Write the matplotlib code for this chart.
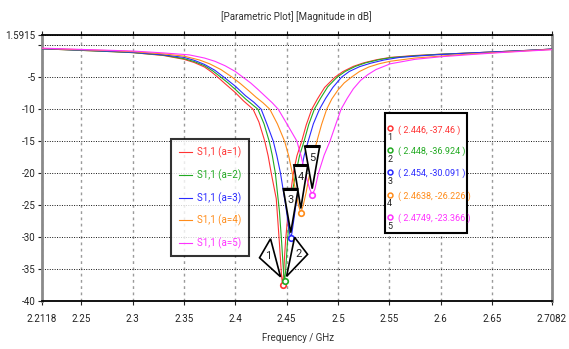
import matplotlib
matplotlib.use("Agg")
import matplotlib.pyplot as plt
import matplotlib.transforms as mtransforms
from matplotlib.patches import Polygon, Rectangle

plt.rcParams['font.family'] = ['Roboto', 'DejaVu Sans']

# S1,1 curves (frequency in GHz, magnitude in dB)
freq_a1 = [2.2118, 2.25, 2.28, 2.30, 2.33, 2.35, 2.36, 2.37, 2.377, 2.383, 2.39, 2.40, 2.408,
           2.4173, 2.423, 2.4287, 2.432, 2.435, 2.4399, 2.443, 2.444, 2.445, 2.446, 2.447,
           2.448, 2.449, 2.4515, 2.4565, 2.46, 2.4647, 2.469, 2.4745, 2.48, 2.487, 2.497,
           2.505, 2.515, 2.525, 2.538, 2.551, 2.575, 2.60, 2.63, 2.658, 2.685, 2.7082]
s11_a1 = [-0.55, -0.8, -1.0, -1.15, -1.6, -2.2, -2.7, -3.4, -4.2, -5.0, -6.0, -7.4, -8.7,
          -10.0, -12.0, -15.0, -17.3, -20.0, -24.0, -31.0, -33.5, -36.0, -37.46, -35.8,
          -33.0, -30.5, -26.0, -20.0, -17.3, -15.0, -12.5, -10.0, -8.4, -6.6, -5.0,
          -4.1, -3.3, -2.75, -2.25, -1.9, -1.6, -1.4, -1.2, -1.0, -0.8, -0.6]

freq_a2 = [2.2118, 2.25, 2.28, 2.30, 2.33, 2.35, 2.36, 2.37, 2.378, 2.386, 2.393, 2.40, 2.41,
           2.422, 2.428, 2.433, 2.436, 2.439, 2.443, 2.445, 2.446, 2.447, 2.448, 2.449,
           2.450, 2.451, 2.453, 2.456, 2.459, 2.4625, 2.467, 2.4715, 2.477, 2.483, 2.49,
           2.4991, 2.507, 2.517, 2.527, 2.54, 2.551, 2.575, 2.60, 2.63, 2.658, 2.685, 2.7082]
s11_a2 = [-0.55, -0.8, -1.0, -1.15, -1.55, -2.1, -2.55, -3.2, -4.0, -5.0, -5.9, -6.9, -8.4,
          -10.0, -12.3, -15.0, -17.2, -20.0, -26.0, -30.5, -33.0, -35.5, -36.924, -35.3,
          -32.8, -30.3, -26.0, -22.5, -20.0, -17.3, -15.0, -12.4, -10.0, -8.3, -6.5,
          -5.0, -4.1, -3.3, -2.75, -2.25, -1.95, -1.65, -1.4, -1.2, -1.0, -0.8, -0.6]

freq_a3 = [2.2118, 2.25, 2.28, 2.30, 2.33, 2.35, 2.36, 2.37, 2.38, 2.389, 2.40, 2.41, 2.418,
           2.4252, 2.431, 2.437, 2.4405, 2.444, 2.447, 2.449, 2.451, 2.453, 2.454, 2.455,
           2.457, 2.459, 2.461, 2.4637, 2.467, 2.471, 2.476, 2.482, 2.488, 2.495, 2.5034,
           2.511, 2.521, 2.532, 2.545, 2.56, 2.58, 2.60, 2.63, 2.658, 2.685, 2.7082]
s11_a3 = [-0.55, -0.75, -0.95, -1.1, -1.5, -1.9, -2.35, -3.0, -3.9, -5.0, -6.4, -7.9, -8.9,
          -10.0, -12.4, -15.0, -17.3, -20.0, -23.0, -25.0, -27.3, -29.5, -30.091, -29.5,
          -27.3, -25.0, -22.8, -20.0, -17.3, -15.0, -12.3, -10.0, -8.3, -6.6, -5.0,
          -4.1, -3.35, -2.8, -2.3, -1.9, -1.65, -1.45, -1.2, -1.0, -0.8, -0.6]

freq_a4 = [2.2118, 2.25, 2.28, 2.30, 2.33, 2.35, 2.365, 2.375, 2.386, 2.397, 2.405, 2.413,
           2.42, 2.427, 2.4336, 2.441, 2.448, 2.452, 2.4555, 2.459, 2.4615, 2.4638, 2.4662,
           2.469, 2.4725, 2.4755, 2.4795, 2.484, 2.489, 2.494, 2.50, 2.506, 2.513, 2.521,
           2.53, 2.54, 2.551, 2.575, 2.60, 2.63, 2.658, 2.685, 2.7082]
s11_a4 = [-0.5, -0.7, -0.85, -1.0, -1.35, -1.7, -2.3, -2.9, -3.8, -5.0, -6.0, -7.1,
          -8.1, -9.0, -10.0, -12.3, -15.0, -17.3, -20.0, -23.0, -25.0, -26.226, -25.0,
          -23.0, -20.0, -17.4, -15.0, -12.4, -10.0, -8.4, -7.0, -5.9, -5.0, -4.1,
          -3.4, -2.9, -2.5, -2.0, -1.7, -1.35, -1.1, -0.85, -0.65]

freq_a5 = [2.2118, 2.25, 2.28, 2.30, 2.33, 2.355, 2.37, 2.38, 2.39, 2.40, 2.4075, 2.415,
           2.422, 2.43, 2.436, 2.4418, 2.451, 2.46, 2.464, 2.468, 2.4725, 2.4749, 2.4775,
           2.481, 2.4865, 2.4922, 2.498, 2.503, 2.509, 2.515, 2.522, 2.529, 2.537, 2.551,
           2.575, 2.60, 2.63, 2.658, 2.685, 2.7082]
s11_a5 = [-0.45, -0.65, -0.8, -0.9, -1.2, -1.5, -2.0, -2.5, -3.2, -4.1, -5.0, -5.9,
          -6.9, -8.1, -9.0, -10.0, -12.5, -15.0, -17.3, -20.0, -22.5, -23.366, -22.5,
          -20.0, -17.2, -15.0, -12.3, -10.0, -8.3, -6.8, -5.5, -4.6, -3.8, -2.9,
          -2.2, -1.8, -1.45, -1.15, -0.9, -0.7]

labels = ['S1,1 (a=1)', 'S1,1 (a=2)', 'S1,1 (a=3)', 'S1,1 (a=4)', 'S1,1 (a=5)']
colors = ['#ff3333', '#22aa22', '#2a2aff', '#ff8c1a', '#ff33ff']

marker_f = [2.446, 2.448, 2.454, 2.4638, 2.4749]
marker_db = [-37.46, -36.924, -30.091, -26.226, -23.366]
marker_txt = ['( 2.446, -37.46 )', '( 2.448, -36.924 )', '( 2.454, -30.091 )',
              '( 2.4638, -26.226 )', '( 2.4749, -23.366 )']

xticks = [2.2118, 2.25, 2.3, 2.35, 2.4, 2.45, 2.5, 2.55, 2.6, 2.65, 2.7082]
xtick_labels = ['2.2118', '2.25', '2.3', '2.35', '2.4', '2.45', '2.5', '2.55', '2.6', '2.65', '2.7082']
yticks = [1.5915, 0, -5, -10, -15, -20, -25, -30, -35, -40]
ytick_labels = ['1.5915', '', '-5', '-10', '-15', '-20', '-25', '-30', '-35', '-40']

fig = plt.figure(figsize=(5.69, 3.49), dpi=100)
ax = fig.add_axes([0.0738, 0.1375, 0.896, 0.762])

curves = [(freq_a1, s11_a1), (freq_a2, s11_a2), (freq_a3, s11_a3),
          (freq_a4, s11_a4), (freq_a5, s11_a5)]
for (f, s), c, lab in zip(curves, colors, labels):
    ax.plot(f, s, color=c, lw=0.8, label=lab, zorder=3)

ax.set_xlim(2.2118, 2.7082)
ax.set_ylim(-40, 1.5915)
ax.set_xticks(xticks)
ax.set_xticklabels(xtick_labels)
ax.set_yticks(yticks)
ax.set_yticklabels(ytick_labels)
ax.tick_params(axis='both', direction='out', length=3, labelsize=7, colors='#222222',
               top=True)
ax.tick_params(axis='x', pad=6)
ax.tick_params(axis='y', pad=1.5)

for x in xticks:
    ax.axvline(x, color='#9a9a9a', lw=1.0, ls=(0, (2, 2.5)), zorder=1)
for y in yticks:
    ax.axhline(y, color='#111111', lw=0.7, ls=(0, (1, 1.5)), zorder=1)

ax.spines['top'].set_linewidth(1.3)
ax.spines['bottom'].set_linewidth(1.3)
ax.spines['left'].set_color('#8a8a8a')
ax.spines['left'].set_linewidth(2)
ax.spines['right'].set_color('#8a8a8a')
ax.spines['right'].set_linewidth(2)

fig.text(0.52, 0.954, '[Parametric Plot] [Magnitude in dB]', ha='center', va='center',
         fontsize=7, color='#333333')
fig.text(0.524, 0.031, 'Frequency / GHz', ha='center', va='center',
         fontsize=7, color='#333333')

# markers on the curves
for f, d, c in zip(marker_f, marker_db, colors):
    ax.plot([f], [d], marker='o', ms=4, mfc='white', mec=c, mew=1.2, zorder=6)

# pointer triangles, in pixel offsets from each marker (y up)
tri_shapes = [
    [(-2, 8), (-12, 46), (-23, 27)],
    [(2, 5), (10, 44), (23, 27)],
    [(0, 5), (-7.5, 49), (7.5, 49)],
    [(0, 4.5), (-7, 48), (7, 48)],
    [(0, 6), (-7.5, 48.5), (7.5, 48.5)],
]
tri_label = [(-14.5, 29), (13.5, 27), (0, 38), (0, 36), (0, 37)]
for i, (f, d) in enumerate(zip(marker_f, marker_db)):
    tr = mtransforms.ScaledTranslation(f, d, ax.transData)
    ax.add_patch(Polygon(tri_shapes[i], closed=True, fc='white', ec='black', lw=1.2,
                         transform=tr, zorder=7, clip_on=False))
    if i >= 2:
        (x1, y1), (x2, y2) = tri_shapes[i][1], tri_shapes[i][2]
        ax.plot([x1, x2], [y1, y2], color='black', lw=2.2, transform=tr, zorder=8,
                solid_capstyle='butt')
    ax.text(tri_label[i][0], tri_label[i][1], str(i + 1), transform=tr, ha='center',
            va='center', fontsize=8, color='#222222', zorder=9)

# legend
leg = ax.legend(loc='upper left', bbox_to_anchor=(0.254, 0.608), bbox_transform=ax.transAxes,
                frameon=True, fancybox=False, edgecolor='black', labelcolor='linecolor',
                fontsize=7, handlelength=1.4, handletextpad=0.5, labelspacing=1.15,
                borderpad=0.75, borderaxespad=0)
leg.get_frame().set_linewidth(1.5)
leg.set_zorder(10)

# marker readout box
ax.add_patch(Rectangle((0.6725, 0.257), 0.1605, 0.451, transform=ax.transAxes,
                       fc='white', ec='black', lw=1.5, zorder=10))
entry_y = [0.650, 0.568, 0.485, 0.399, 0.316]
for i, (y, c, t) in enumerate(zip(entry_y, colors, marker_txt)):
    ax.plot([0.682], [y], marker='o', ms=3.5, mfc='white', mec=c, mew=1.1,
            transform=ax.transAxes, zorder=11, clip_on=False)
    ax.text(0.682, y - 0.034, str(i + 1), transform=ax.transAxes, ha='center', va='center',
            fontsize=6.5, color='#222222', zorder=11)
    ax.text(0.698, y - 0.006, t, transform=ax.transAxes, ha='left', va='center',
            fontsize=6.5, color=c, zorder=11)

fig.savefig('out.png', dpi=100)
